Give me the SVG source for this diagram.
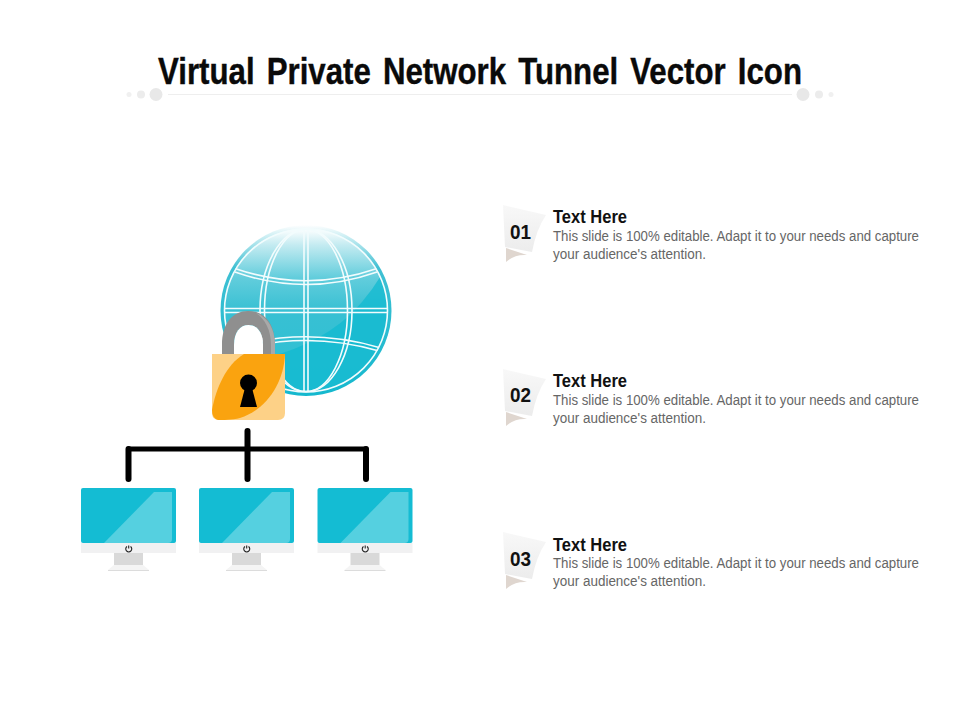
<svg xmlns="http://www.w3.org/2000/svg" xmlns:xlink="http://www.w3.org/1999/xlink" width="960" height="720" viewBox="0 0 960 720">
<style>
text{font-family:"Liberation Sans",Arial,sans-serif}
.title{font-size:37px;font-weight:700;fill:#0a0a0a;stroke:#0a0a0a;stroke-width:.4;word-spacing:4px}
.num{font-size:21px;font-weight:700;fill:#111;text-anchor:middle}
.head{font-size:18px;font-weight:700;fill:#111}
.body{font-size:14px;fill:#666}
.grid{fill:none;stroke:#f2fcfd;stroke-width:1.600}
.wire{fill:none;stroke:#000;stroke-linecap:round;stroke-linejoin:round}
</style>
<defs>
<linearGradient id="globeFill" x1="0" y1="0" x2="0" y2="1">
<stop offset="0" stop-color="#ffffff"/>
<stop offset="0.1" stop-color="#c4ebf1"/>
<stop offset="0.3" stop-color="#62cddc"/>
<stop offset="0.5" stop-color="#38c0d3"/>
<stop offset="1" stop-color="#2cc0d4"/>
</linearGradient>
<linearGradient id="rim" x1="0" y1="0" x2="0" y2="1">
<stop offset="0" stop-color="#ffffff"/>
<stop offset="0.25" stop-color="#3fc0d3"/>
<stop offset="1" stop-color="#14b8ce"/>
</linearGradient>
<linearGradient id="badgeFill" x1="0" y1="0" x2="0" y2="1">
<stop offset="0" stop-color="#f8f8f8"/>
<stop offset="1" stop-color="#ececec"/>
</linearGradient>
<clipPath id="globeClip"><circle cx="306" cy="310.500" r="82"/></clipPath>
<g id="monitor">
<rect x="0" y="0" width="95" height="55" rx="2" fill="#14bcd3"/>
<path d="M23 55L73 4H91V51Q91 55 87 55Z" fill="#55d0e0"/>
<rect x="0" y="55" width="95" height="10" fill="#f1f1f2"/>
<rect x="33" y="65" width="29" height="12" fill="#d9d9d9"/>
<path d="M33 77H62L68 82H27Z" fill="#f4f4f4"/>
<path d="M27 82.500H68" stroke="#dcdcdc" stroke-width="1"/>
<path d="M46 58.500A3 3 0 1 0 49.500 58.500" fill="none" stroke="#222" stroke-width="1.100"/>
<path d="M47.700 57.500V60.500" stroke="#222" stroke-width="1.100"/>
</g>
<g id="badge">
<path d="M0 0L43 10Q33 25 29 47L2 42Z" fill="url(#badgeFill)"/>
<path d="M3 43L24 50Q12 49 3 57Z" fill="#dfd6cf"/>
</g>
</defs>
<rect width="960" height="720" fill="#fff"/>
<g id="title">
<text class="title" x="158" y="84" textLength="644" lengthAdjust="spacingAndGlyphs">Virtual Private Network Tunnel Vector Icon</text>
<path d="M168 94.500H792" stroke="#eeeeee" stroke-width="1"/>
<circle cx="129" cy="94.500" r="2.500" fill="#f0f0f0"/><circle cx="141" cy="94.500" r="4" fill="#ececec"/><circle cx="156" cy="94.500" r="6.500" fill="#e8e8e8"/>
<circle cx="803" cy="94.500" r="6.500" fill="#e8e8e8"/><circle cx="819" cy="94.500" r="4" fill="#ececec"/><circle cx="831" cy="94.500" r="2.500" fill="#f0f0f0"/>
</g>
<g id="globe">
<circle cx="306" cy="310.500" r="85.500" fill="url(#rim)"/>
<circle cx="306" cy="310.500" r="82" fill="url(#globeFill)"/>
<path d="M215 365Q300 360 350 315Q375 290 388 262L400 400H215Z" fill="#12bad0" opacity="0.75" clip-path="url(#globeClip)"/>
<g class="grid">
<circle cx="306" cy="310.500" r="81.500"/>
<path d="M304 229V392M308 229V392"/>
<path d="M224 308.500H388M224 312.500H388"/>
<ellipse cx="306" cy="310.500" rx="41.500" ry="81"/>
<ellipse cx="306" cy="310.500" rx="46" ry="81"/>
<path d="M235 268.500Q306 293 377 268.500M235 272Q306 297 377 272" clip-path="url(#globeClip)"/>
<path d="M233 347.500Q306 326 379 347.500M233 351Q306 330 379 351" clip-path="url(#globeClip)"/>
</g>
</g>
<g id="lock">
<path d="M222 355V345C222 323 233 311 248 311C264 311 275 323 275 345V355H263V345C263 332 257 325 248.500 325C240 325 234 332 234 345V355Z" fill="#8f8f8f"/>
<path d="M234 345C234 332 240 325 248.500 325C257 325 263 332 263 345V355H234Z" fill="#fff"/>
<path d="M256 313C268 317 275 329 275 345V355H271V345C271 330 265 319 256 313Z" fill="#a9a9a9"/>
<path d="M212 354H285V413Q285 420 278 420H219Q212 420 212 413Z" fill="#fdd187"/>
<path d="M212 410C216 388 226 365 244 354H285C284 383 266 410 240 418C232 420 222 420 218 420Q212 418 212 410Z" fill="#faa30f"/>
<circle cx="248.500" cy="383" r="8.500" fill="#000"/>
<path d="M245.500 386H251.500L257 407H240Z" fill="#000"/>
</g>
<g id="connectors">
<path class="wire" stroke-width="5" d="M128.500 449H366"/>
<path class="wire" stroke-width="6" d="M128.500 479V449M247.500 431V479M366 449V479"/>
</g>
<use id="monitor-1" href="#monitor" x="81" y="488"/>
<use id="monitor-2" href="#monitor" x="199" y="488"/>
<use id="monitor-3" href="#monitor" x="317.500" y="488"/>
<g id="item-1">
<use href="#badge" x="503" y="205"/>
<text class="num" x="520.500" y="239" textLength="21" lengthAdjust="spacingAndGlyphs">01</text>
<text class="head" x="553" y="223" textLength="74" lengthAdjust="spacingAndGlyphs">Text Here</text>
<text class="body" x="553" y="241" textLength="366" lengthAdjust="spacingAndGlyphs">This slide is 100% editable. Adapt it to your needs and capture</text>
<text class="body" x="553" y="259" textLength="153" lengthAdjust="spacingAndGlyphs">your audience's attention.</text>
</g>
<g id="item-2">
<use href="#badge" x="503" y="369"/>
<text class="num" x="520.500" y="402" textLength="21" lengthAdjust="spacingAndGlyphs">02</text>
<text class="head" x="553" y="387" textLength="74" lengthAdjust="spacingAndGlyphs">Text Here</text>
<text class="body" x="553" y="405" textLength="366" lengthAdjust="spacingAndGlyphs">This slide is 100% editable. Adapt it to your needs and capture</text>
<text class="body" x="553" y="423" textLength="153" lengthAdjust="spacingAndGlyphs">your audience's attention.</text>
</g>
<g id="item-3">
<use href="#badge" x="503" y="532"/>
<text class="num" x="520.500" y="566" textLength="21" lengthAdjust="spacingAndGlyphs">03</text>
<text class="head" x="553" y="551" textLength="74" lengthAdjust="spacingAndGlyphs">Text Here</text>
<text class="body" x="553" y="568" textLength="366" lengthAdjust="spacingAndGlyphs">This slide is 100% editable. Adapt it to your needs and capture</text>
<text class="body" x="553" y="586" textLength="153" lengthAdjust="spacingAndGlyphs">your audience's attention.</text>
</g>
</svg>
